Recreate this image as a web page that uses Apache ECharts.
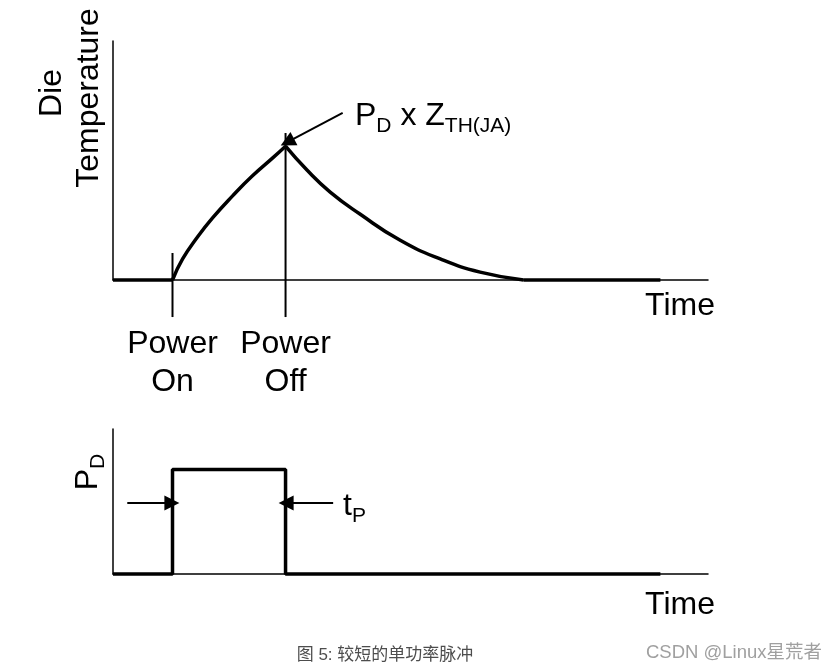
<!DOCTYPE html>
<html>
<head>
<meta charset="utf-8">
<script src="https://cdn.jsdelivr.net/npm/echarts@6/dist/echarts.min.js"></script>
<style>html,body{margin:0;padding:0;background:#fff}#c{width:838px;height:671px}</style>
</head>
<body>
<div id="c"></div>
<script>
// ---- data (time units 0..100, level units 0..100) ----
const baseBefore = [[0, 0], [10, 0]];
const riseCurve = [[10, 0], [11.7, 8.8], [14.2, 18.0], [16.7, 25.9], [20.1, 35.2], [23.4, 43.5], [26.8, 51.0], [29, 56]];
const decayCurve = [[29, 56], [32.6, 46], [36.5, 36.8], [41.5, 27.6], [48.2, 16.7], [55, 8.8], [61.7, 3.3], [69, 0]];
const baseAfter = [[69, 0], [92, 0]];
const powerOnMarker = [[10, -15.5], [10, 11.3]];
const powerOffMarker = [[29, -15.5], [29, 61.5]];
const peakArrow = [[38.6, 69.9], [29.3, 57.7]];
const pulse = [[0, 0], [10, 0], [10, 72], [29, 72], [29, 0], [92, 0]];
const pulseArrowLeft = [[2.4, 49], [9.9, 49]];
const pulseArrowRight = [[37, 49], [29.1, 49]];
const markerLabels = ['Power\nOn', 'Power\nOff'];
const markerTimes = [10, 29];

const chart = echarts.init(document.getElementById('c'));
const FONT = '"Liberation Sans", Arial, sans-serif';
const CJK = '"Liberation Sans", "Noto Sans CJK SC", sans-serif';
const axisCommon = {
  type: 'value', min: 0, max: 100,
  axisLine: { show: true, onZero: false, lineStyle: { color: '#000', width: 1.5 } },
  axisTick: { show: false }, axisLabel: { show: false }, splitLine: { show: false }
};
function lineSeries(data, xi, width, extra) {
  return Object.assign({
    type: 'line', xAxisIndex: xi, yAxisIndex: xi, data: data, symbol: 'none',
    lineStyle: { color: '#000', width: width }, silent: true, animation: false, clip: false
  }, extra || {});
}
function arrowLine(pairs) {
  return {
    silent: true, symbol: ['none', 'triangle'], symbolSize: 15, animation: false,
    label: { show: false },
    lineStyle: { color: '#000', width: 2, type: 'solid' },
    data: pairs.map(p => [{ coord: p[0] }, { coord: p[1] }])
  };
}
const sub = { fontSize: 21, fontFamily: FONT, lineHeight: 38, verticalAlign: 'bottom', padding: [0, 0, -5, 0] };
const main = { fontSize: 32, fontFamily: FONT, lineHeight: 38, verticalAlign: 'bottom' };
const txt = (s) => ({ font: '32px ' + FONT, fill: '#000', text: s, align: 'center', verticalAlign: 'middle' });

const option = {
  backgroundColor: '#fff',
  animation: false,
  grid: [
    { left: 113, top: 41, width: 595, height: 239 },
    { left: 113, top: 429, width: 595, height: 145 }
  ],
  xAxis: [Object.assign({ gridIndex: 0 }, axisCommon), Object.assign({ gridIndex: 1 }, axisCommon)],
  yAxis: [Object.assign({ gridIndex: 0 }, axisCommon), Object.assign({ gridIndex: 1 }, axisCommon)],
  series: [
    lineSeries(baseBefore, 0, 3.5),
    lineSeries(riseCurve, 0, 3.5, { smooth: 0.5 }),
    lineSeries(decayCurve, 0, 3.5, { smooth: 0.5, markLine: arrowLine([peakArrow]) }),
    lineSeries(baseAfter, 0, 3.5),
    lineSeries(powerOnMarker, 0, 2),
    lineSeries(powerOffMarker, 0, 2),
    lineSeries(pulse, 1, 3.5, { markLine: arrowLine([pulseArrowLeft, pulseArrowRight]) })
  ],
  graphic: [
    { type: 'text', x: 52, y: 93, rotation: Math.PI / 2, style: txt('Die') },
    { type: 'text', x: 89, y: 98, rotation: Math.PI / 2, style: txt('Temperature') },
    { type: 'text', x: 355, y: 113, style: {
      text: '{m|P}{s|D}{m| x Z}{s|TH(JA)}', fill: '#000', align: 'left', verticalAlign: 'middle',
      rich: { m: main, s: sub } } },
    { type: 'text', x: 680, y: 306, style: txt('Time') },
    { type: 'text', x: 680, y: 605, style: txt('Time') },
    { type: 'text', x: 85, y: 472, rotation: Math.PI / 2, style: {
      text: '{m|P}{s|D}', fill: '#000', align: 'center', verticalAlign: 'middle',
      rich: { m: main, s: sub } } },
    { type: 'text', x: 343, y: 503, style: {
      text: '{m|t}{s|P}', fill: '#000', align: 'left', verticalAlign: 'middle',
      rich: { m: main, s: sub } } },
    { type: 'text', x: 385, y: 655, style: { text: '图 5: 较短的单功率脉冲', font: '17px ' + CJK, fill: '#4d4d4d', align: 'center', verticalAlign: 'middle' } },
    { type: 'text', x: 822, y: 653, style: { text: 'CSDN @Linux星荒者', font: '18.5px ' + CJK, fill: '#a0a0a0', align: 'right', verticalAlign: 'middle' } }
  ]
};
chart.setOption(option);

// "Power On / Power Off" labels positioned through the axis scale
const labelGraphics = markerLabels.map((t, i) => {
  const p = chart.convertToPixel({ gridIndex: 0 }, [markerTimes[i], 0]);
  return { type: 'text', x: p[0], y: 363, style: { text: t, font: '32px ' + FONT, fill: '#000', align: 'center', verticalAlign: 'middle', lineHeight: 38 } };
});
chart.setOption({ graphic: option.graphic.concat(labelGraphics) });
</script>
</body>
</html>
